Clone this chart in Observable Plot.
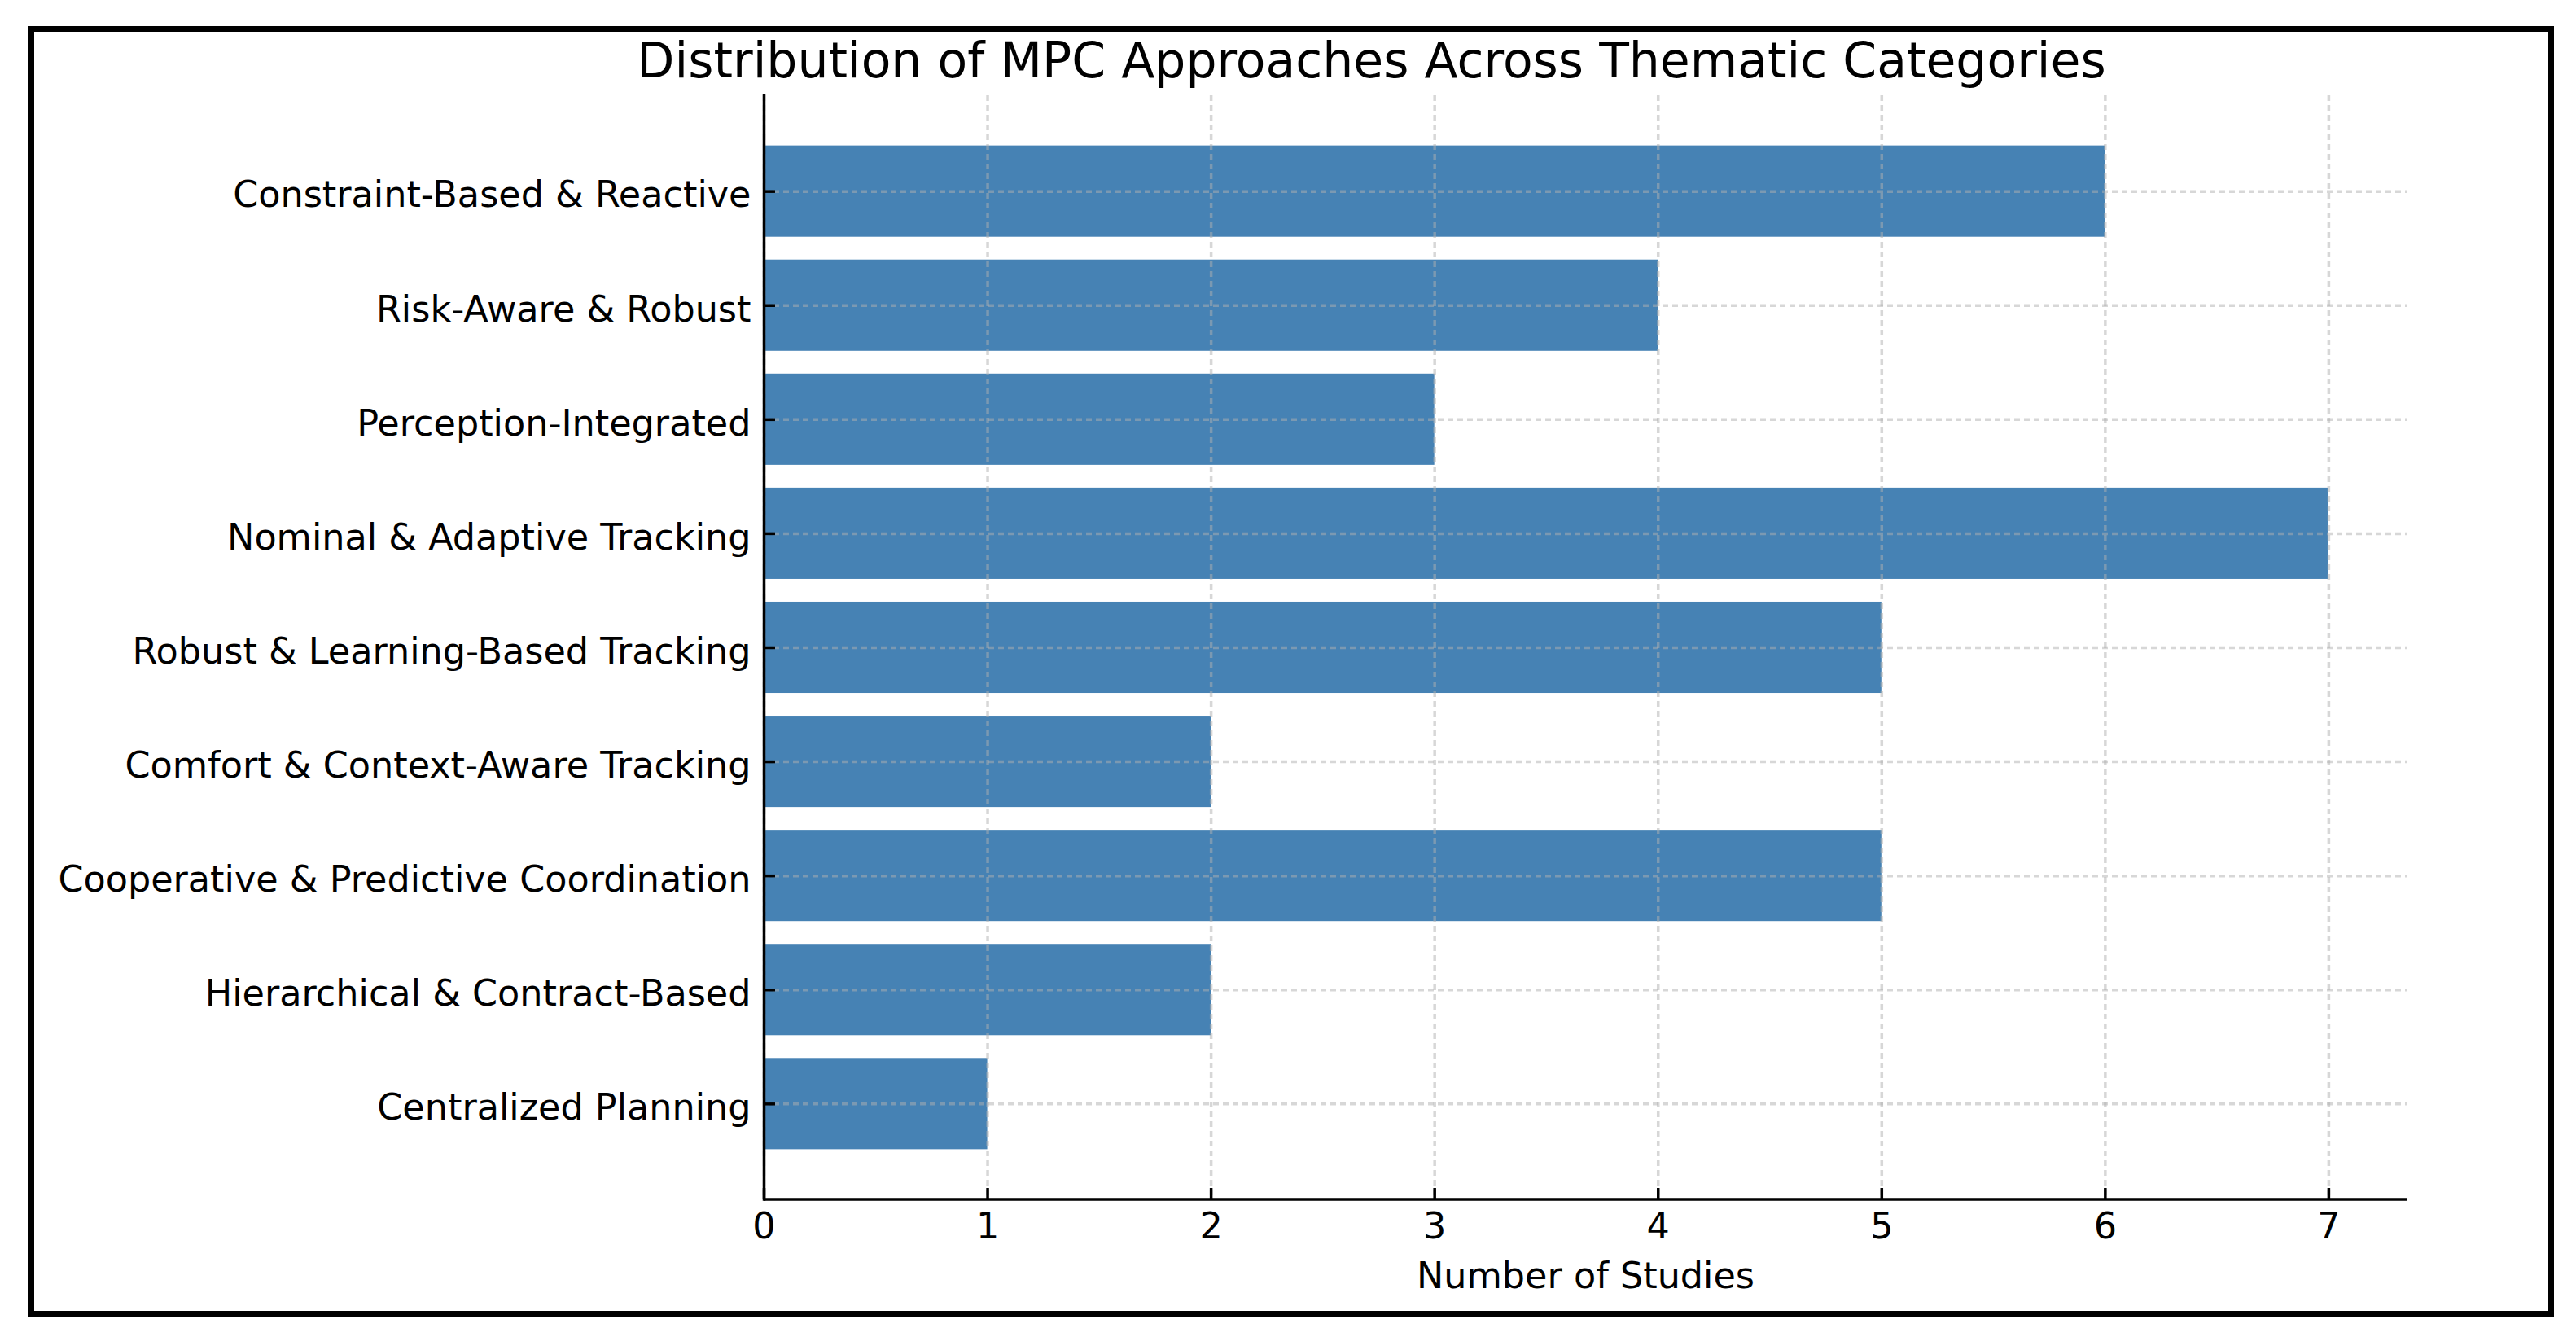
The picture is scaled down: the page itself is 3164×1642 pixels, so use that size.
<!DOCTYPE html>
<html>
<head>
<meta charset="utf-8">
<script src="https://cdn.jsdelivr.net/npm/d3@7"></script>
<script src="https://cdn.jsdelivr.net/npm/@observablehq/plot@0.6"></script>
<style>
  html, body { margin: 0; padding: 0; background: #fff; }
  #wrap { position: relative; width: 3164px; height: 1642px; overflow: hidden; font-family: "DejaVu Sans", sans-serif; background: #fff; }
  #title { position: absolute; left: 1684.5px; top: 44px; transform: translateX(-50%); white-space: nowrap; font-size: 60px; line-height: 60px; color: #000; font-family: "DejaVu Sans", sans-serif; }
  #chart { position: absolute; left: 0; top: 110px; }
  #border { position: absolute; left: 35px; top: 32px; width: 3102px; height: 1585px; box-sizing: border-box; border: 7px solid #000; pointer-events: none; }
</style>
</head>
<body>
<div id="wrap">
  <div id="title">Distribution of MPC Approaches Across Thematic Categories</div>
  <div id="chart"></div>
  <div id="border"></div>
</div>
<script>
const categories = [
  "Constraint-Based & Reactive",
  "Risk-Aware & Robust",
  "Perception-Integrated",
  "Nominal & Adaptive Tracking",
  "Robust & Learning-Based Tracking",
  "Comfort & Context-Aware Tracking",
  "Cooperative & Predictive Coordination",
  "Hierarchical & Contract-Based",
  "Centralized Planning"
];
const counts = [6, 4, 3, 7, 5, 2, 5, 2, 1];
const xTicks = [0, 1, 2, 3, 4, 5, 6, 7];
const xLabel = "Number of Studies";

const data = categories.map((c, i) => ({category: c, count: counts[i]}));

const W = 3164, H = 1532, mL = 938, mR = 208, mT = 7, mB = 169;
const frameH = H - mT - mB;
const frameW = W - mL - mR;
const gridStyle = {stroke: "#b0b0b0", strokeOpacity: 0.5, strokeWidth: 3.5, strokeDasharray: "7,5"};

const chart = Plot.plot({
  width: W,
  height: H,
  marginLeft: mL,
  marginRight: mR,
  marginTop: mT,
  marginBottom: mB,
  style: {fontFamily: "DejaVu Sans", fontSize: "44.5px", background: "transparent", color: "#000", overflow: "visible"},
  x: {domain: [0, 7.35], axis: null},
  y: {domain: categories, paddingInner: 0.2, paddingOuter: 0.44, round: false, axis: null},
  marks: [
    Plot.barX(data, {x: "count", y: "category", fill: "#4682b4"}),
    Plot.ruleX(xTicks, {x: d => d, ...gridStyle}),
    Plot.ruleY(categories, {y: d => d, ...gridStyle}),
    Plot.ruleX([0], {x: d => d, stroke: "#000", strokeWidth: 3.5, insetBottom: -1.75, insetTop: -1.75}),
    Plot.rect([0], {x1: d => d, x2: () => 7.35, fill: "#000", insetTop: frameH - 1.75, insetBottom: -1.75}),
    Plot.ruleX(xTicks, {x: d => d, stroke: "#000", strokeWidth: 3.5, insetTop: frameH - 14}),
    Plot.ruleY(categories, {y: d => d, stroke: "#000", strokeWidth: 3.5, insetRight: frameW - 14}),
    Plot.axisX(xTicks, {tickSize: 0, tickPadding: 16, label: null, fill: "#000", tickFormat: d3.format("d")}),
    Plot.axisY({tickSize: 0, tickPadding: 16, label: null, dy: 5, fill: "#000"}),
    Plot.text([xLabel], {text: d => d, frameAnchor: "bottom", dy: 108, fontSize: 44.5, fill: "#000"})
  ]
});
document.getElementById("chart").appendChild(chart);
</script>
</body>
</html>
